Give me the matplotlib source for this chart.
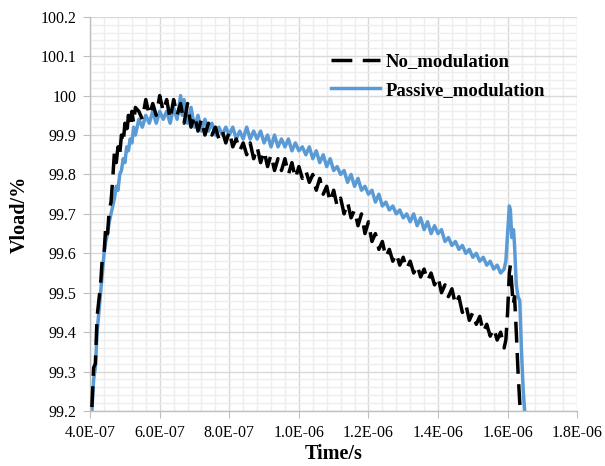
import matplotlib
matplotlib.use("Agg")
import matplotlib.pyplot as plt
from matplotlib.ticker import MultipleLocator, FuncFormatter
import numpy as np

# ---------------- data (time in ns, Vload in %) ----------------
t_nomod = [405, 410, 415, 420, 425, 430, 435, 440, 445, 450, 455, 460, 465, 470, 475,
           480, 485, 490, 495, 500, 505, 510, 515, 520, 525, 530, 540, 550, 560, 570,
           580, 590, 600, 610, 620, 630, 640, 650, 660, 670, 680, 690, 700, 710, 720,
           730, 740, 750, 760, 770, 780, 790, 800, 810, 820, 830, 840, 850, 860, 870,
           880, 890, 900, 910, 920, 930, 940, 950, 960, 970, 980, 990, 1000, 1010, 1020,
           1030, 1040, 1050, 1060, 1070, 1080, 1090, 1100, 1110, 1120, 1130, 1140, 1150,
           1160, 1170, 1180, 1190, 1200, 1210, 1220, 1230, 1240, 1250, 1260, 1270, 1280,
           1290, 1300, 1310, 1320, 1330, 1340, 1350, 1360, 1370, 1380, 1390, 1400, 1410,
           1420, 1430, 1440, 1450, 1460, 1470, 1480, 1490, 1500, 1510, 1520, 1530, 1540,
           1550, 1560, 1570, 1580, 1590, 1595, 1600, 1605, 1608, 1612, 1616, 1620, 1625,
           1630, 1635, 1638]
v_nomod = [99.21, 99.31, 99.32, 99.44, 99.48, 99.52, 99.59, 99.60, 99.67, 99.65, 99.71,
           99.73, 99.79, 99.86, 99.83, 99.87, 99.85, 99.90, 99.88, 99.93, 99.90, 99.95,
           99.92, 99.96, 99.93, 99.97, 99.96, 99.94, 99.99, 99.95, 99.98, 99.95, 100.00,
           99.96, 99.99, 99.94, 99.99, 99.95, 99.98, 99.93, 99.98, 99.92, 99.95, 99.91,
           99.94, 99.90, 99.93, 99.90, 99.92, 99.89, 99.91, 99.88, 99.91, 99.87, 99.89,
           99.86, 99.88, 99.85, 99.88, 99.84, 99.87, 99.83, 99.86, 99.82, 99.85, 99.81,
           99.84, 99.81, 99.84, 99.80, 99.83, 99.79, 99.82, 99.79, 99.81, 99.78, 99.80,
           99.76, 99.79, 99.75, 99.77, 99.73, 99.76, 99.72, 99.74, 99.70, 99.73, 99.69,
           99.71, 99.67, 99.70, 99.65, 99.68, 99.63, 99.65, 99.61, 99.63, 99.59, 99.61,
           99.58, 99.60, 99.57, 99.59, 99.56, 99.58, 99.55, 99.57, 99.54, 99.56, 99.53,
           99.55, 99.52, 99.54, 99.50, 99.52, 99.49, 99.51, 99.47, 99.49, 99.45, 99.47,
           99.43, 99.45, 99.42, 99.44, 99.40, 99.42, 99.39, 99.41, 99.38, 99.40, 99.36,
           99.38, 99.45, 99.55, 99.57, 99.52, 99.47, 99.49, 99.40, 99.30, 99.22, 99.20]

t_passive = [405, 410, 415, 420, 425, 430, 435, 440, 445, 450, 455, 460, 465, 470, 475,
             480, 485, 490, 495, 500, 505, 510, 515, 520, 525, 530, 540, 550, 560, 570,
             580, 590, 600, 610, 620, 630, 640, 650, 660, 665, 670, 680, 690, 700, 710,
             720, 730, 740, 750, 760, 770, 780, 790, 800, 810, 820, 830, 840, 850, 860,
             870, 880, 890, 900, 910, 920, 930, 940, 950, 960, 970, 980, 990, 1000, 1010,
             1020, 1030, 1040, 1050, 1060, 1070, 1080, 1090, 1100, 1110, 1120, 1130, 1140,
             1150, 1160, 1170, 1180, 1190, 1200, 1210, 1220, 1230, 1240, 1250, 1260, 1270,
             1280, 1290, 1300, 1310, 1320, 1330, 1340, 1350, 1360, 1370, 1380, 1390, 1400,
             1410, 1420, 1430, 1440, 1450, 1460, 1470, 1480, 1490, 1500, 1510, 1520, 1530,
             1540, 1550, 1560, 1570, 1580, 1590, 1595, 1600, 1605, 1608, 1612, 1617, 1620,
             1625, 1630, 1635, 1640, 1645, 1650]
v_passive = [99.20, 99.28, 99.31, 99.40, 99.45, 99.50, 99.55, 99.60, 99.63, 99.65, 99.68,
             99.70, 99.72, 99.74, 99.77, 99.76, 99.80, 99.81, 99.84, 99.83, 99.87, 99.86,
             99.89, 99.88, 99.92, 99.90, 99.94, 99.92, 99.95, 99.93, 99.96, 99.93, 99.96,
             99.94, 99.96, 99.93, 99.97, 99.94, 100.00, 99.95, 99.99, 99.93, 99.97, 99.92,
             99.95, 99.91, 99.94, 99.91, 99.93, 99.90, 99.92, 99.90, 99.92, 99.90, 99.92,
             99.89, 99.91, 99.89, 99.92, 99.89, 99.91, 99.89, 99.91, 99.88, 99.90, 99.87,
             99.90, 99.87, 99.89, 99.87, 99.89, 99.86, 99.88, 99.86, 99.87, 99.85, 99.87,
             99.84, 99.86, 99.83, 99.85, 99.82, 99.84, 99.81, 99.82, 99.80, 99.81, 99.78,
             99.80, 99.77, 99.79, 99.76, 99.77, 99.75, 99.76, 99.73, 99.75, 99.72, 99.73,
             99.71, 99.72, 99.70, 99.71, 99.69, 99.70, 99.68, 99.70, 99.67, 99.69, 99.66,
             99.68, 99.65, 99.67, 99.65, 99.66, 99.63, 99.64, 99.62, 99.63, 99.61, 99.62,
             99.60, 99.61, 99.59, 99.60, 99.58, 99.59, 99.57, 99.58, 99.56, 99.57, 99.55,
             99.56, 99.58, 99.65, 99.72, 99.71, 99.64, 99.66, 99.62, 99.52, 99.49, 99.48,
             99.35, 99.25, 99.19]

labels = ["No_modulation", "Passive_modulation"]

# ---------------- plot ----------------
plt.rcParams['font.family'] = ['Liberation Serif', 'DejaVu Serif']

fig = plt.figure(figsize=(6.05, 4.66), dpi=100)
ax = fig.add_axes([0.149, 0.118, 0.805, 0.846])

ax.plot(np.array(t_nomod) * 1e-9, v_nomod, color='black', lw=2.5,
        dashes=(6, 3), label=labels[0], zorder=3)
ax.plot(np.array(t_passive) * 1e-9, v_passive, color='#5b9bd5', lw=2.5,
        label=labels[1], zorder=2)

ax.set_xlim(4.0e-7, 1.8e-6)
ax.set_ylim(99.2, 100.2)

ax.xaxis.set_major_locator(MultipleLocator(2e-7))
ax.xaxis.set_minor_locator(MultipleLocator(4e-8))
ax.yaxis.set_major_locator(MultipleLocator(0.1))
ax.yaxis.set_minor_locator(MultipleLocator(0.02))

ax.xaxis.set_major_formatter(FuncFormatter(lambda v, p: f"{v:.1E}"))
ax.yaxis.set_major_formatter(FuncFormatter(lambda v, p: "100" if abs(v - 100) < 1e-6 else f"{v:.1f}"))

ax.grid(which='major', color='#d9d9d9', lw=1.0)
ax.grid(which='minor', color='#eeeeee', lw=1.0)
ax.set_axisbelow(True)

for side in ['top', 'right']:
    ax.spines[side].set_visible(False)
for side in ['left', 'bottom']:
    ax.spines[side].set_color('#bfbfbf')
    ax.spines[side].set_linewidth(1.0)

ax.tick_params(which='major', length=5, color='#bfbfbf', labelsize=11.5, pad=5)
ax.tick_params(which='minor', length=0)

ax.set_xlabel("Time/s", fontsize=14.5, fontweight='bold', labelpad=2)
ax.set_ylabel("Vload/%", fontsize=14.5, fontweight='bold', labelpad=8)

leg = ax.legend(loc='upper left', bbox_to_anchor=(0.46, 0.95), frameon=False,
                prop={'size': 13.5, 'weight': 'bold'}, handlelength=2.6,
                handletextpad=0.3, labelspacing=0.6)

fig.savefig("out.png", dpi=100)
